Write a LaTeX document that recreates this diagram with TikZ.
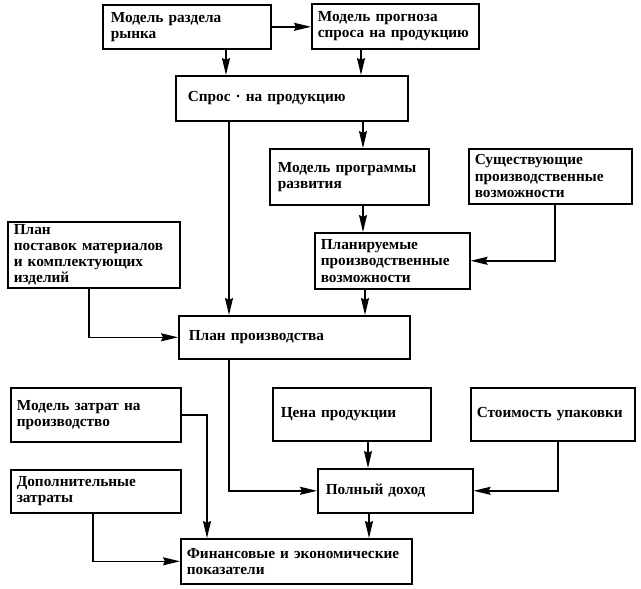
\documentclass[tikz,border=0pt]{standalone}
\usepackage{fontspec}
\setmainfont{Liberation Serif}
\usetikzlibrary{arrows.meta}
\tikzset{
  box/.style={draw, line width=1.6pt, anchor=north west, align=left, inner xsep=6pt, inner ysep=2pt,
    font=\fontsize{15.3}{16.3}\selectfont\bfseries},
  arr/.style={line width=1.4pt, -{Stealth[length=17pt,width=8pt,inset=2pt]}},
}
\newcommand{\bx}[6]{% name, x1, y1, x2, y2, text
  \pgfmathsetmacro{\bw}{#4-#2-12}\pgfmathsetmacro{\bh}{#5-#3}%
  \node[box, text width=\bw pt, minimum height=\bh pt] (#1) at (#2,#3) {#6};}
\begin{document}
\begin{tikzpicture}[x=1pt,y=-1pt]
\useasboundingbox (0,0) rectangle (641,589);
\bx{A}{102}{4}{270}{48}{\hspace*{2pt}Модель раздела\\\hspace*{2pt}рынка}
\bx{B}{311}{3}{478}{48}{Модель прогноза\\спроса на продукцию}
\bx{C}{175}{75}{407}{120}{\hspace*{6pt}Спрос · на продукцию}
\bx{D}{269}{148}{428}{204}{\hspace*{2pt}Модель программы\\\hspace*{2pt}развития}
\bx{E}{468}{148}{631}{203}{Существующие\\производственные\\возможности}
\bx{F}{7}{221}{179}{287}{План\\поставок материалов\\и комплектующих\\изделий}
\bx{G}{314}{232}{469}{288}{Планируемые\\производственные\\возможности}
\bx{H}{178}{315}{409}{358}{\hspace*{4pt}План производства}
\bx{I}{10}{387}{180}{441}{Модель затрат на\\производство}
\bx{J}{272}{387}{430}{440}{\hspace*{2pt}Цена продукции}
\bx{K}{470}{387}{634}{440}{Стоимость упаковки}
\bx{L}{10}{469}{180}{512}{Дополнительные\\затраты}
\bx{M}{317}{468}{472}{512}{\hspace*{2pt}Полный доход}
\bx{N}{180}{538}{411}{583}{Финансовые и экономические\\показатели}
\coordinate (x227) at (226,0);
\coordinate (x361) at (361,0);
\coordinate (x363) at (363,0);
\coordinate (x229) at (229,0);
\coordinate (x365) at (365,0);
\coordinate (x555) at (555,0);
\coordinate (x89) at (89,0);
\coordinate (x368) at (368,0);
\coordinate (x558) at (558,0);
\coordinate (x207) at (207,0);
\coordinate (x93) at (93,0);
\coordinate (x369) at (369,0);
\draw[arr] (A.east) -- (B.west |- A.east);
\draw[arr] (A.south -| x227) -- (C.north -| x227);
\draw[arr] (B.south -| x361) -- (C.north -| x361);
\draw[arr] (C.south -| x363) -- (D.north -| x363);
\draw[arr] (D.south -| x363) -- (G.north -| x363);
\draw[arr] (E.south -| x555) |- (G.east);
\draw[arr] (C.south -| x229) -- (H.north -| x229);
\draw[arr] (G.south -| x365) -- (H.north -| x365);
\draw[arr] (F.south -| x89) |- (H.west);
\draw[arr] (H.south -| x229) |- (M.west);
\draw[arr] (J.south -| x368) -- (M.north -| x368);
\draw[arr] (K.south -| x558) |- (M.east);
\draw[arr] (I.east) -| (N.north -| x207);
\draw[arr] (L.south -| x93) |- (N.west);
\draw[arr] (M.south -| x369) -- (N.north -| x369);
\end{tikzpicture}
\end{document}
